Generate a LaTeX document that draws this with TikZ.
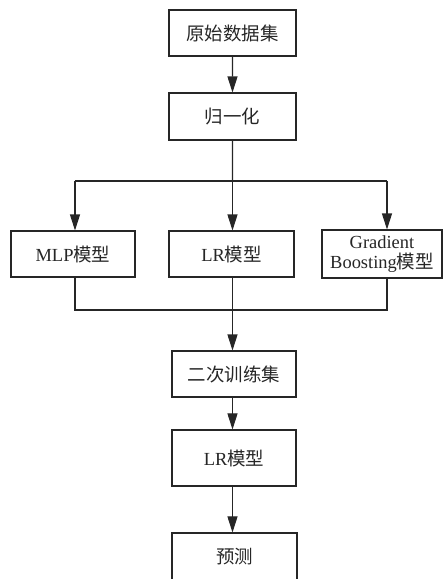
\documentclass[tikz,border=0pt]{standalone}
\usepackage{fontspec}
\setmainfont{Liberation Serif}
\newfontfamily\cjk{Noto Sans CJK SC}
\usepackage{tikz}
\usetikzlibrary{arrows.meta}

\begin{document}
\begin{tikzpicture}[scale=0.2]
                    \tikzstyle{every node}+=[inner sep=0pt]
                    \tikzstyle{box}=[draw=black!85, line width=0.6pt, rectangle, align=center,
                        font=\fontsize{10.5}{12.5}\selectfont, text=black!85,
                        minimum width=2.5cm, minimum height=0.92cm]
                    \tikzstyle{line}=[draw=black!85, line width=0.6pt]
                    \tikzstyle{arr}=[line, -{Triangle[length=3.2mm,width=2mm]}]
                    \clip (0,0) rectangle (44.3,-57.9);
                    % top part
                    \node [box, minimum width=2.54cm] (raw) at (23.25,-3.3) {\cjk 原始数据集};
                    \node [box, minimum width=2.54cm, minimum height=0.94cm] (norm) at (23.25,-11.65) {\cjk 归一化};
                    % three models
                    \node [box, minimum width=2.48cm] (mlp) at (7.3,-25.4) {MLP{\cjk 模型}};
                    \node [box] (lr) at (23.15,-25.4) {LR{\cjk 模型}};
                    \node [box, minimum width=2.4cm, minimum height=0.96cm] (gb) at (38.2,-25.4) {Gradient\\[-1pt]Boosting{\cjk 模型}};
                    % lower part
                    \node [box, minimum width=2.48cm] (train) at (23.4,-37.4) {\cjk 二次训练集};
                    \node [box, minimum width=2.48cm, minimum height=1.12cm] (lrtwo) at (23.4,-45.8) {LR{\cjk 模型}};
                    \node [box, minimum width=2.5cm, minimum height=1.0cm] (pred) at (23.45,-55.8) {\raisebox{2pt}{\cjk 预测}};
                    % branch and merge points
                    \coordinate (brm) at (23.25,-18.1);
                    \coordinate (brl) at (7.5,-18.1);
                    \coordinate (brr) at (38.7,-18.1);
                    \coordinate (mgl) at (7.5,-31.0);
                    \coordinate (mgm) at (23.25,-31.0);
                    \coordinate (mgr) at (38.7,-31.0);
                    % connectors
                    \draw [arr] (raw) -- (norm);
                    \draw [line] (norm) -- (brm);
                    \draw [line] (brl) -- (brr);
                    \draw [arr] (brl) -- (brl |- mlp.north);
                    \draw [arr] (brm) -- (brm |- lr.north);
                    \draw [arr] (brr) -- (brr |- gb.north);
                    \draw [line] (mgl |- mlp.south) -- (mgl) -- (mgr) -- (mgr |- gb.south);
                    \draw [line] (mgm |- lr.south) -- (mgm);
                    \draw [arr] (mgm) -- (mgm |- train.north);
                    \draw [arr] (mgm |- train.south) -- (mgm |- lrtwo.north);
                    \draw [arr] (mgm |- lrtwo.south) -- (mgm |- pred.north);
                \end{tikzpicture}
\end{document}
